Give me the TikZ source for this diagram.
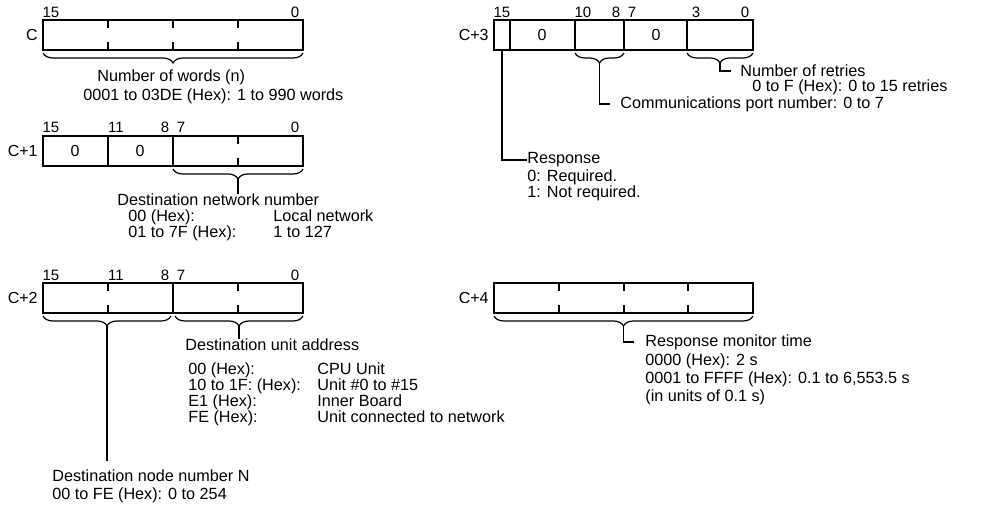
\documentclass[tikz,border=0pt]{standalone}
\usepackage{fontspec}
\setmainfont{Liberation Sans}
\usetikzlibrary{decorations.pathreplacing}

\begin{document}
\begin{tikzpicture}[x=0.5pt,y=-0.5pt,
    frame/.style={line width=0.9pt},
    lead/.style={line width=0.7pt},
    brc/.style={line width=0.6pt,decorate,decoration={brace,mirror,amplitude=5pt}},
    lbl/.style={inner sep=0pt,font=\fontsize{8.1}{8}\selectfont,align=left},
    bitno/.style={inner sep=0pt,font=\fontsize{7.5}{8}\selectfont},
    reg/.style={inner sep=0pt,font=\fontsize{8}{9}\selectfont}]
\useasboundingbox (0,0) rectangle (982,506);

% word C
\node[reg,anchor=east] (nC) at (38,35) {C};
\draw[frame] (43,20) rectangle (303,50);
\foreach \x in {108,173,238}
  \draw[frame] (\x,20) -- (\x,28) (\x,50) -- (\x,42);
\node[bitno] (bC15) at (51,12) {15};
\node[bitno] (bC0) at (295,12) {0};
\draw[brc] (43,53) -- (303,53);
\node[lbl,anchor=west] (words) at (97,77) {Number of words (n)};
\node[lbl,anchor=west] (wordsrng) at (83,96) {0001 to 03DE (Hex): 1 to 990 words};

% word C+1
\node[reg,anchor=east] (nC1) at (38,151) {C+1};
\draw[frame] (43,136) rectangle (303,166);
\draw[frame] (108,136) -- (108,166) (173,136) -- (173,166);
\draw[frame] (238,136) -- (238,144) (238,166) -- (238,158);
\foreach \x/\b in {51/15,116/11,165/8,181/7,295/0}
  \node[bitno] at (\x,127) {\b};
\node[reg] (zA) at (75,151) {0};
\node[reg] (zB) at (140,151) {0};
\draw[brc] (173,169) -- (303,169);
\coordinate (netTip) at (238,179);
\node[lbl,anchor=west] (net) at (117,200) {Destination network number};
\draw[lead] (netTip) -- (netTip |- net.north);
\node[lbl,anchor=north west] (netrng) at (128,209.5)
  {\makebox[72.5pt][l]{00 (Hex):}Local network\\
   \makebox[72.5pt][l]{01 to 7F (Hex):}1 to 127};

% word C+2
\node[reg,anchor=east] (nC2) at (38,298) {C+2};
\draw[frame] (43,283) rectangle (303,313);
\draw[frame] (173,283) -- (173,313);
\foreach \x in {108,238}
  \draw[frame] (\x,283) -- (\x,291) (\x,313) -- (\x,305);
\foreach \x/\b in {51/15,116/11,165/8,181/7,295/0}
  \node[bitno] at (\x,275) {\b};
\draw[brc] (43,316) -- (171,316);
\draw[brc] (175,316) -- (303,316);
\coordinate (nodeTip) at (107,326);
\coordinate (unitTip) at (239,326);
\node[lbl,anchor=west] (unit) at (185,345) {Destination unit address};
\draw[lead] (unitTip) -- (unitTip |- unit.north);
\node[lbl,anchor=north west] (unitrng) at (188,362.5)
  {\makebox[64.5pt][l]{00 (Hex):}CPU Unit\\
   \makebox[64.5pt][l]{10 to 1F: (Hex):}Unit \#0 to \#15\\
   \makebox[64.5pt][l]{E1 (Hex):}Inner Board\\
   \makebox[64.5pt][l]{FE (Hex):}Unit connected to network};
\node[lbl,anchor=north west,font=\fontsize{8.1}{9}\selectfont] (nodeno) at (52,469.5)
  {Destination node number N\\00 to FE (Hex): 0 to 254};
\draw[lead,shorten >=4pt] (nodeTip) -- (nodeTip |- nodeno.north);

% word C+3
\node[reg,anchor=east] (nC3) at (489,35) {C+3};
\draw[frame] (494,20) rectangle (753,50);
\foreach \x in {510,575,624,687}
  \draw[frame] (\x,20) -- (\x,50);
\foreach \x/\b in {502/15,583/10,616/8,632/7,696/3,745/0}
  \node[bitno] at (\x,12) {\b};
\node[reg] (zC) at (542,35) {0};
\node[reg] (zD) at (656,35) {0};
\draw[brc] (575,53) -- (624,53);
\draw[brc] (687,53) -- (753,53);
\coordinate (portTip) at (599.5,63);
\coordinate (retTip) at (720,63);
\coordinate (respTop) at (502,50);
\node[lbl,anchor=west] (ret) at (740,71) {Number of retries};
\node[lbl,anchor=west] (retrng) at (752,87) {0 to F (Hex): 0 to 15 retries};
\node[lbl,anchor=west] (port) at (620,104) {Communications port number: 0 to 7};
\draw[lead] (retTip) |- ([xshift=-4.5pt]ret.west);
\draw[lead] (portTip) |- ([xshift=-5pt]port.west);
\node[lbl,anchor=west] (resp) at (527,160) {Response};
\node[lbl,anchor=north west] (resprng) at (527,169.5) {0: Required.\\1: Not required.};
\draw[lead] (respTop) |- (resp.west);

% word C+4
\node[reg,anchor=east] (nC4) at (489,298) {C+4};
\draw[frame] (494,283) rectangle (753,313);
\foreach \x in {559,624,688}
  \draw[frame] (\x,283) -- (\x,291) (\x,313) -- (\x,305);
\draw[brc] (494,316) -- (753,316);
\coordinate (monTip) at (623.5,326);
\node[lbl,anchor=west] (mon) at (645,342) {Response monitor time};
\draw[lead] (monTip) |- ([xshift=-5.5pt]mon.west);
\node[lbl,anchor=north west,font=\fontsize{8.1}{9}\selectfont] (monrng) at (645,353.5)
  {0000 (Hex): 2 s\\0001 to FFFF (Hex): 0.1 to 6,553.5 s\\(in units of 0.1 s)};
\end{tikzpicture}
\end{document}
